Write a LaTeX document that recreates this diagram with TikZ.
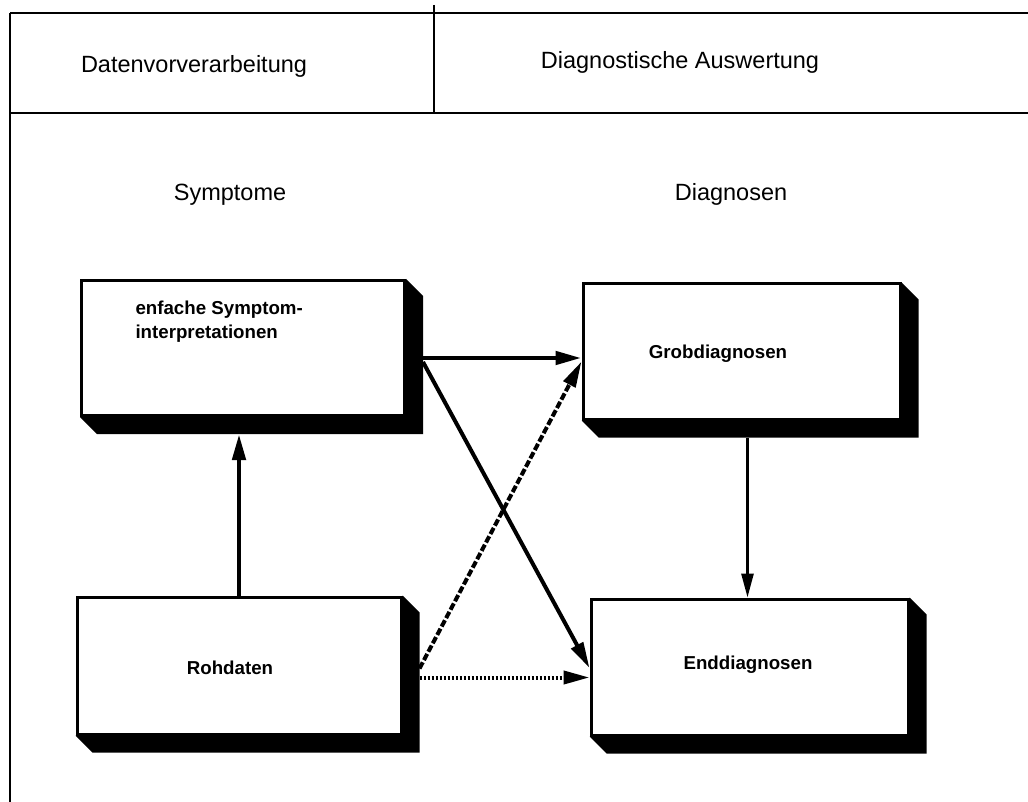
\documentclass[tikz,border=0pt]{standalone}
\usepackage{fontspec}
\setmainfont{Liberation Sans}
\usetikzlibrary{arrows.meta,calc}
\begin{document}
\begin{tikzpicture}[x=1pt,y=-1pt,
  rule/.style={line width=2.6pt},
  thinrule/.style={line width=2pt},
  box/.style={draw, line width=3pt, fill=white, inner sep=0pt},
  head/.style={font=\fontsize{23.5}{28}\selectfont, anchor=base},
  boxtext/.style={font=\bfseries\fontsize{18.7}{24}\selectfont},
  arrowtip/.style={-{Triangle[length=26pt,width=13pt]}},
  link/.style={arrowtip, line width=4.6pt},
  dashlink/.style={link, line width=4pt, dash pattern=on 7pt off 2.5pt},
  dotlink/.style={link, line width=4pt, dash pattern=on 2.5pt off 1.5pt},
  slimlink/.style={line width=2.8pt, -{Triangle[length=24pt,width=12pt]}}
]
\useasboundingbox (0,0) rectangle (1028,802);

% outer frame and header row
\coordinate (tl) at (10,13);
\coordinate (tr) at (1028,13);
\coordinate (bl) at (10,802);
\coordinate (ml) at (10,113);
\coordinate (mr) at (1028,113);
\coordinate (dt) at (434,5);
\coordinate (db) at (434,113);
\draw[rule] (tr) -- (tl);
\draw[thinrule] (tl) -- (bl);
\draw[rule] (ml) -- (mr);
\draw[thinrule] (dt) -- (db);

\node[head] (h1) at (194,73) {Datenvorverarbeitung};
\node[head] (h2) at (680,69) {Diagnostische Auswertung};
\node[head] (sy) at (230,201) {Symptome};
\node[head] (dg) at (731,201) {Diagnosen};

% boxes
\node[box, minimum width=323, minimum height=135] (A) at (243,348) {};
\node[box, minimum width=317, minimum height=135] (B) at (741.5,351.5) {};
\node[box, minimum width=324, minimum height=137] (C) at (239,665.5) {};
\node[box, minimum width=317, minimum height=136] (D) at (749.5,667) {};

% extruded shadows
\foreach \n in {A,B,C,D}
  \fill (\n.north east) -- ++(17,17) -- ($(\n.south east)+(17,17)$)
        -- ($(\n.south west)+(17,17)$) -- (\n.south west) -- (\n.south east) -- cycle;

% box labels
\node[boxtext, anchor=west, align=left] (tA) at (132,322) {enfache Symptom-\\interpretationen};
\node[boxtext, anchor=base] (tB) at (718,358) {Grobdiagnosen};
\node[boxtext, anchor=base] (tC) at (230,674) {Rohdaten};
\node[boxtext, anchor=base] (tD) at (748,669) {Enddiagnosen};

% connector end points
\coordinate (As) at ($(A.south)+(0,17)$);
\coordinate (a1) at ($(A.east)+(17,10)$);
\coordinate (a2) at ($(A.east)+(17,14)$);
\coordinate (c1) at ($(C.east)+(17,3)$);
\coordinate (c2) at ($(C.east)+(17,12)$);
\coordinate (b1) at ($(B.west)+(0,10)$);
\coordinate (d1) at ($(D.west)+(0,1)$);
\coordinate (bs) at ($(B.south)+(6,17)$);

% connectors
\draw[link] (C.north) -- (C.north |- As);
\draw[link] (a1) -- (a1 -| B.west);
\draw[link, line width=4pt] (a2) -- (d1);
\draw[dashlink] (c1) -- (b1);
\draw[dotlink] (c2) -- (c2 -| D.west);
\draw[slimlink] (bs) -- (bs |- D.north);
\end{tikzpicture}
\end{document}
